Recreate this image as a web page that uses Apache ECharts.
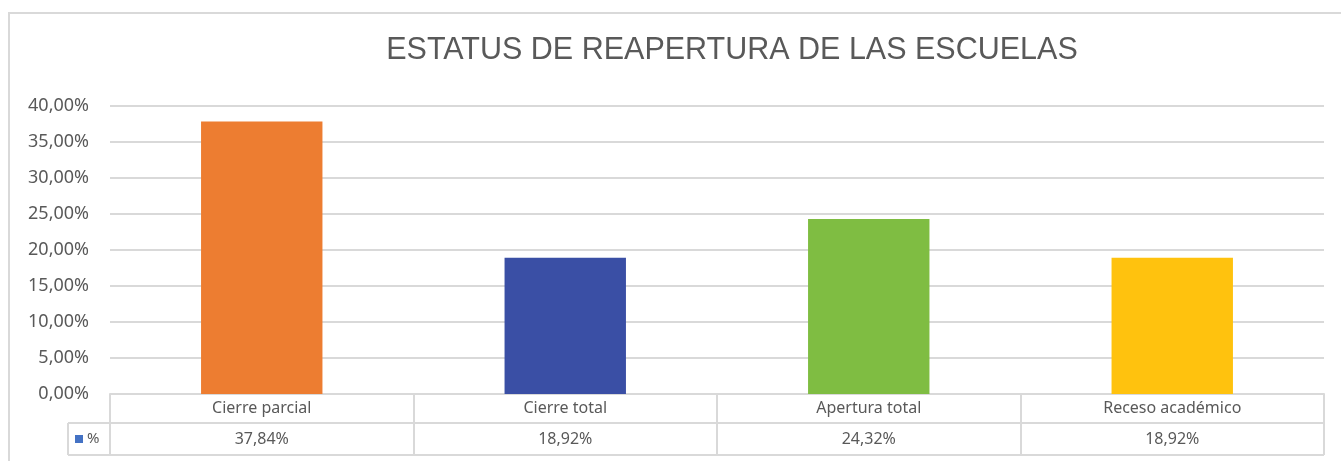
<!DOCTYPE html>
<html>
<head>
<meta charset="utf-8">
<script src="https://cdn.jsdelivr.net/npm/echarts@6/dist/echarts.min.js"></script>
<style>
  html, body { margin: 0; padding: 0; background: #fff; }
  #chart { width: 1341px; height: 461px; }
</style>
</head>
<body>
<div id="chart"></div>
<script>
// datos del gráfico
const categories = ['Cierre parcial', 'Cierre total', 'Apertura total', 'Receso académico'];
const values = [37.84, 18.92, 24.32, 18.92];
const barColors = ['#ED7D31', '#3A4FA5', '#7FBD42', '#FFC20E'];
const seriesName = '%';
const yTicks = [0, 5, 10, 15, 20, 25, 30, 35, 40];

const fmt = v => v.toFixed(2).replace('.', ',') + '%';
const lineColor = '#D9D9D9';
const textColor = '#595959';
const font = 'Noto Sans';

const gridLeft = 110, gridRight = 17, gridTop = 106, gridBottom = 67;
const W = 1341, H = 461;
const zeroY = H - gridBottom;

const chart = echarts.init(document.getElementById('chart'));

const option = {
  animation: false,
  backgroundColor: '#fff',
  title: {
    text: 'ESTATUS DE REAPERTURA DE LAS ESCUELAS',
    left: 727,
    textAlign: 'center',
    top: 30,
    textStyle: { fontFamily: 'Liberation Sans', fontSize: 30.5, fontWeight: 'normal', color: textColor }
  },
  grid: { left: gridLeft, right: gridRight, top: gridTop, bottom: gridBottom },
  xAxis: {
    type: 'category',
    data: categories,
    axisLine: { show: true, lineStyle: { color: lineColor, width: 2 } },
    axisTick: { show: true, length: 61, lineStyle: { color: lineColor, width: 2 } },
    axisLabel: {
      margin: 0,
      interval: 0,
      formatter: (name, idx) => '{a|' + name + '}\n{b|' + fmt(values[idx]) + '}',
      rich: {
        a: { fontFamily: font, fontSize: 16, color: textColor, lineHeight: 29 },
        b: { fontFamily: font, fontSize: 16, color: textColor, lineHeight: 32 }
      }
    }
  },
  yAxis: {
    type: 'value',
    min: yTicks[0],
    max: yTicks[yTicks.length - 1],
    interval: 5,
    axisLine: { show: false },
    axisTick: { show: false },
    splitLine: { lineStyle: { color: lineColor, width: 2 } },
    axisLabel: {
      margin: 21,
      fontFamily: font,
      fontSize: 18,
      color: textColor,
      formatter: v => fmt(v)
    }
  },
  series: [{
    name: seriesName,
    type: 'bar',
    barWidth: '40%',
    data: values.map((v, i) => ({ value: v, itemStyle: { color: barColors[i] } }))
  }],
  graphic: [
    // borde exterior
    { type: 'rect', shape: { x: 9, y: 13, width: 1400, height: 500 }, style: { fill: 'none', stroke: lineColor, lineWidth: 2 }, silent: true },
    // líneas de la tabla
    { type: 'line', shape: { x1: 68, y1: zeroY + 29, x2: W - gridRight, y2: zeroY + 29 }, style: { stroke: lineColor, lineWidth: 2 } },
    { type: 'line', shape: { x1: 68, y1: zeroY + 61, x2: W - gridRight, y2: zeroY + 61 }, style: { stroke: lineColor, lineWidth: 2 } },
    { type: 'line', shape: { x1: 68, y1: zeroY + 29, x2: 68, y2: zeroY + 61 }, style: { stroke: lineColor, lineWidth: 2 } },
    // leyenda
    { type: 'rect', shape: { x: 75, y: zeroY + 41, width: 8, height: 8 }, style: { fill: '#4472C4' } },
    { type: 'text', style: { x: 87, y: zeroY + 45, text: seriesName, fontFamily: font, fontSize: 15, fill: textColor, verticalAlign: 'middle' } }
  ]
};

chart.setOption(option);
</script>
</body>
</html>
